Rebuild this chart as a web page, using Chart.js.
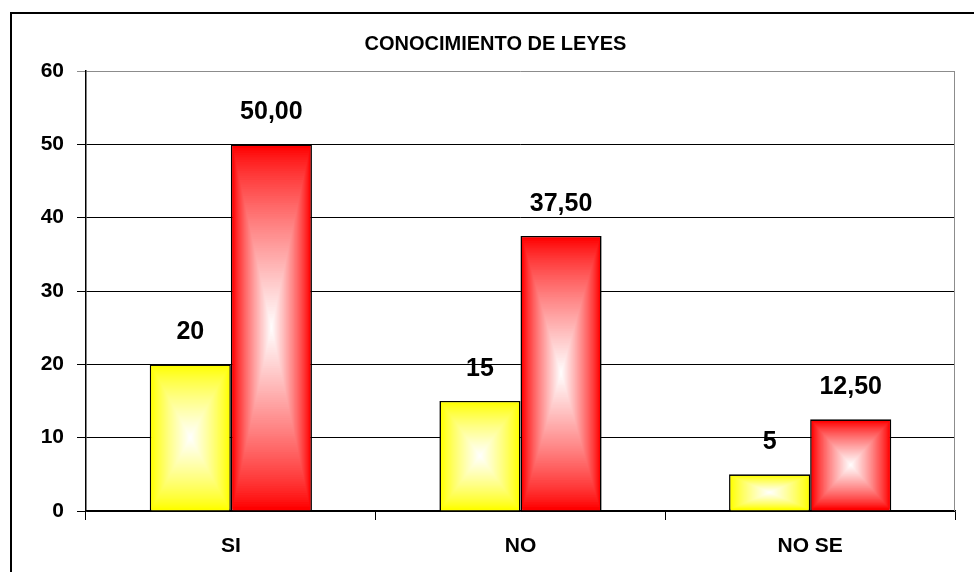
<!DOCTYPE html>
<html>
<head>
<meta charset="utf-8">
<script src="https://cdn.jsdelivr.net/npm/chart.js@4.4.0/dist/chart.umd.min.js"></script>
<style>
    html, body { margin: 0; padding: 0; background: #fff; overflow: hidden; }
    #grafico { display: block; }
</style>
</head>
<body>
<canvas id="grafico" width="974" height="572"></canvas>
<script>
// datos del grafico
const categorias = ['SI', 'NO', 'NO SE'];
const frecuencia = [20, 15, 5];
const porcentaje = [50, 37.5, 12.5];
const ejeY = { min: 0, max: 60, paso: 10 };

const FUENTE = '"Liberation Sans", Arial, sans-serif';

// mezcla un color rgb con blanco
function mezclar(rgb, t) {
    const r = Math.round(rgb[0] + (255 - rgb[0]) * t);
    const g = Math.round(rgb[1] + (255 - rgb[1]) * t);
    const b = Math.round(rgb[2] + (255 - rgb[2]) * t);
    return `rgb(${r},${g},${b})`;
}

// marco exterior negro (fondo blanco)
const marcoPlugin = {
    id: 'marco',
    beforeDraw(chart) {
        const ctx = chart.ctx;
        ctx.save();
        ctx.fillStyle = '#fff';
        ctx.fillRect(0, 0, chart.width, chart.height);
        ctx.strokeStyle = '#000';
        ctx.lineWidth = 2;
        ctx.beginPath();
        ctx.moveTo(10, 13);
        ctx.lineTo(chart.width, 13);
        ctx.moveTo(11, 12);
        ctx.lineTo(11, chart.height);
        ctx.stroke();
        ctx.restore();
    },
    beforeDatasetsDraw(chart) {
        // borde gris derecho del area de trazado
        const { ctx, chartArea } = chart;
        ctx.save();
        ctx.strokeStyle = '#8c8c8c';
        ctx.lineWidth = 1;
        ctx.beginPath();
        ctx.moveTo(Math.round(chartArea.right) - 0.5, chartArea.top);
        ctx.lineTo(Math.round(chartArea.right) - 0.5, chartArea.bottom);
        ctx.stroke();
        ctx.restore();
    }
};

// relleno degradado rectangular (blanco al centro) + etiquetas de valor
const degradadoPlugin = {
    id: 'degradado',
    afterDatasetsDraw(chart) {
        const ctx = chart.ctx;
        chart.data.datasets.forEach((ds, i) => {
            const meta = chart.getDatasetMeta(i);
            meta.data.forEach((bar, j) => {
                const bw = ds.borderWidth;
                const x0 = bar.x - bar.width / 2 + bw;
                const x1 = bar.x + bar.width / 2 - bw;
                const y0 = bar.y + bw;
                const y1 = bar.base - bw;
                const w = x1 - x0, h = y1 - y0;
                if (w <= 0 || h <= 0) return;
                ctx.save();
                const pasos = 80;
                for (let k = 0; k < pasos; k++) {
                    const t = k / pasos;
                    const dx = t * w / 2, dy = t * h / 2;
                    ctx.fillStyle = mezclar(ds.colorBase, Math.pow(t, 0.8));
                    ctx.fillRect(x0 + dx, y0 + dy, w - 2 * dx, h - 2 * dy);
                }
                ctx.restore();

                // etiqueta de valor
                const v = ds.data[j];
                const texto = ds.decimales ? v.toFixed(2).replace('.', ',') : String(v);
                ctx.save();
                ctx.fillStyle = '#000';
                ctx.font = `bold 25px ${FUENTE}`;
                ctx.textAlign = 'center';
                ctx.textBaseline = 'alphabetic';
                ctx.fillText(texto, bar.x, bar.y - 25);
                ctx.restore();
            });
        });
    }
};

new Chart(document.getElementById('grafico'), {
    type: 'bar',
    data: {
        labels: categorias,
        datasets: [
            {
                label: 'Frecuencia',
                data: frecuencia,
                backgroundColor: '#ffff00',
                colorBase: [255, 255, 0],
                decimales: false,
                borderColor: '#000',
                borderWidth: 1.6,
                barPercentage: 1,
                categoryPercentage: 0.56
            },
            {
                label: 'Porcentaje',
                data: porcentaje,
                backgroundColor: '#ff0000',
                colorBase: [255, 0, 0],
                decimales: true,
                borderColor: '#000',
                borderWidth: 1.6,
                barPercentage: 1,
                categoryPercentage: 0.56
            }
        ]
    },
    options: {
        responsive: false,
        animation: false,
        devicePixelRatio: 1,
        layout: { padding: { top: 0, right: 19, bottom: 0, left: 36 } },
        plugins: {
            legend: { display: false },
            tooltip: { enabled: false },
            title: {
                display: true,
                text: 'CONOCIMIENTO DE LEYES',
                color: '#000',
                font: { family: FUENTE, size: 20, weight: 'bold' },
                padding: { top: 32, bottom: 15 }
            }
        },
        scales: {
            x: {
                offset: true,
                grid: {
                    offset: true,
                    drawOnChartArea: false,
                    drawTicks: true,
                    tickLength: 9,
                    color: '#000'
                },
                border: { color: '#000', width: 1.5 },
                ticks: {
                    color: '#000',
                    padding: 14,
                    font: { family: FUENTE, size: 21, weight: 'bold' }
                },
                afterFit(scale) { scale.height = 61; }
            },
            y: {
                min: ejeY.min,
                max: ejeY.max,
                grid: {
                    color: (c) => (c.tick && c.tick.value === ejeY.max ? '#8c8c8c' : '#000'),
                    lineWidth: 1,
                    tickLength: 9
                },
                border: { color: '#000', width: 1.5 },
                ticks: {
                    stepSize: ejeY.paso,
                    color: '#000',
                    padding: 13,
                    font: { family: FUENTE, size: 21, weight: 'bold' }
                },
                afterFit(scale) { scale.width = 50; }
            }
        }
    },
    plugins: [marcoPlugin, degradadoPlugin]
});
</script>
</body>
</html>
